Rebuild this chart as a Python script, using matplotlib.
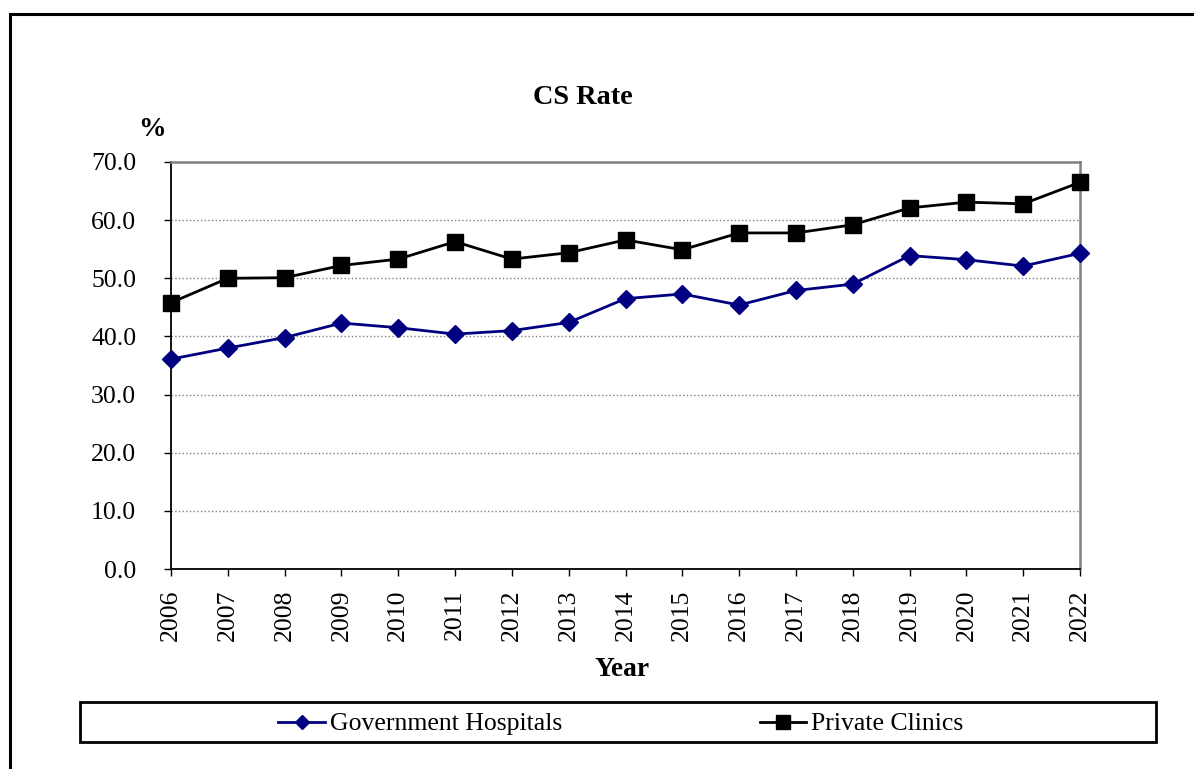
import matplotlib
matplotlib.use("Agg")
import matplotlib.pyplot as plt
from matplotlib.patches import Rectangle

plt.rcParams["font.family"] = ["Liberation Serif", "DejaVu Serif"]

years = list(range(2006, 2023))
government = [36.1, 38.0, 39.8, 42.3, 41.5, 40.4, 41.0, 42.4, 46.5, 47.3,
              45.4, 47.9, 49.0, 53.9, 53.2, 52.1, 54.3]
private = [45.8, 50.0, 50.1, 52.2, 53.3, 56.3, 53.3, 54.4, 56.6, 54.9,
           57.8, 57.8, 59.2, 62.1, 63.1, 62.8, 66.5]
y_ticks = [0, 10, 20, 30, 40, 50, 60, 70]

W, H = 1194, 769
fig = plt.figure(figsize=(W / 100, H / 100), dpi=100)
ax = fig.add_axes([171 / W, 1 - 569 / H, (1080 - 171) / W, (569 - 162) / H])

ax.plot(years, government, color="#000080", lw=2, marker="D", ms=9,
        label="Government Hospitals", clip_on=False, zorder=3)
ax.plot(years, private, color="black", lw=2, marker="s", ms=12,
        label="Private Clinics", clip_on=False, zorder=3)

ax.set_xlim(2006, 2022)
ax.set_ylim(0, 70)
ax.set_xticks(years)
ax.set_xticklabels([str(y) for y in years], rotation=90)
ax.set_yticks(y_ticks)
ax.set_yticklabels([f"{v:.1f}" for v in y_ticks])
ax.tick_params(axis="y", length=5, width=1, direction="out", pad=20, labelsize=18.5)
ax.tick_params(axis="x", length=5, width=1, direction="out", pad=10, labelsize=18.5)

ax.grid(axis="y", linestyle=":", color="#808080", lw=1)
for side in ["left", "bottom"]:
    ax.spines[side].set_color("black")
    ax.spines[side].set_linewidth(1.3)
for side in ["top", "right"]:
    ax.spines[side].set_color("#808080")
    ax.spines[side].set_linewidth(1.8)

fig.text(583 / W, 1 - 97 / H, "CS Rate", ha="center", va="center",
         fontsize=20.3, fontweight="bold")
fig.text(152 / W, 1 - 130 / H, "%", ha="center", va="center",
         fontsize=19.8, fontweight="bold")
fig.text(622 / W, 1 - 669 / H, "Year", ha="center", va="center",
         fontsize=19.8, fontweight="bold")

# legend box
fig.add_artist(Rectangle((80 / W, 1 - 742 / H), (1156 - 80) / W, 40 / H,
                         transform=fig.transFigure, fill=False,
                         edgecolor="black", lw=2))
ax.legend(loc="center", bbox_to_anchor=(621 / W, 1 - 724 / H),
          bbox_transform=fig.transFigure, ncol=2, frameon=False,
          numpoints=1, fontsize=18.5, handlelength=1.8, handletextpad=0.2,
          columnspacing=7.7, markerscale=0.8)

# outer chart frame (cropped at right and bottom)
fig.add_artist(Rectangle((10 / W, -0.1), 1.2, 1.1 - 14 / H,
                         transform=fig.transFigure, fill=False,
                         edgecolor="black", lw=2.2))

fig.savefig("out.png", dpi=100)
